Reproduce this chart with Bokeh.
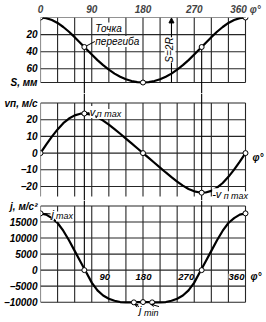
import math
from bokeh.plotting import figure
from bokeh.layouts import column
from bokeh.models import Range1d, FixedTicker, LinearAxis, Label, Arrow, NormalHead, OpenHead
from bokeh.embed import file_html
from bokeh.resources import INLINE

# ---------------- data ----------------
phi = list(range(0, 361, 10))
S_mm = [0, 0.7, 2.9, 6.4, 11.1, 16.7, 23.0, 29.7, 36.6, 43.3, 49.8, 55.7, 61.0, 65.6, 69.3, 72.2, 74.3, 75.6, 76.0,
        75.6, 74.3, 72.2, 69.3, 65.6, 61.0, 55.7, 49.8, 43.3, 36.6, 29.7, 23.0, 16.7, 11.1, 6.4, 2.9, 0.7, 0]
v_ms = [0, 5.1, 9.9, 14.2, 17.9, 20.7, 22.6, 23.6, 23.6, 22.9, 21.5, 19.5, 17.1, 14.4, 11.6, 8.7, 5.8, 2.9, 0,
        -2.9, -5.8, -8.7, -11.6, -14.4, -17.1, -19.5, -21.5, -22.9, -23.6, -23.6, -22.6, -20.7, -17.9, -14.2, -9.9, -5.1, 0]
j_ms2 = [17700, 17300, 16200, 14700, 12300, 9300, 6000, 2700, -600, -3900, -6300, -7900, -8900, -9550, -9950, -10050, -10050, -9990, -9960,
         -9990, -10050, -10050, -9950, -9550, -8900, -7900, -6300, -3900, -600, 2700, 6000, 9300, 12300, 14700, 16200, 17300, 17700]

phi_ticks = [0, 90, 180, 270, 360]
phi_grid = list(range(0, 361, 30))
S_ticks = [20, 40, 60, 76]
S_grid = [0, 20, 40, 60, 76]
v_ticks = [30, 20, 10, 0, -10, -20]
j_ticks = [20000, 15000, 10000, 5000, 0, -5000, -10000]

infl_phi = [77, 283]
S_mark_phi = [0, 77, 180, 283, 360]
S_mark = [0, 34.5, 76, 34.5, 0]
v_mark_phi = [0, 77, 180, 283, 360]
v_mark = [0, 23.7, 0, -23.7, 0]
j_mark_phi = [0, 77, 164, 180, 196, 283, 360]
j_mark = [17700, 0, -10050, -9960, -10050, 0, 17700]
S_2R_phi = 230

# ---------------- layout ----------------
FRAME_W = 228
PXD = 205 / 360.0            # px per degree
PHI_END = FRAME_W / PXD
K1 = 65 / 76.0               # px per mm
K2 = 1.67                    # px per m/s
K3 = 0.003207                # px per m/s^2
GRID = "#262626"
FONT = "Liberation Sans"


def make_fig(frame_h, yr, top=0):
    p = figure(frame_width=FRAME_W, frame_height=frame_h, x_range=Range1d(0, PHI_END), y_range=yr,
               output_backend="svg", toolbar_location=None, min_border_left=38, min_border_right=0,
               min_border_top=top, min_border_bottom=0, x_axis_location=None, y_axis_location="left")
    p.outline_line_color = None
    p.grid.visible = False
    p.background_fill_color = "white"
    p.border_fill_color = "white"
    return p


def style_yaxis(p, ticks, overrides):
    ax = p.yaxis[0]
    ax.ticker = FixedTicker(ticks=ticks)
    ax.major_label_overrides = overrides
    ax.axis_line_color = None
    ax.major_tick_line_color = None
    ax.minor_tick_line_color = None
    ax.major_tick_out = 0
    ax.major_tick_in = 0
    ax.major_label_standoff = 3
    ax.major_label_text_font = FONT
    ax.major_label_text_font_style = "bold italic"
    ax.major_label_text_font_size = "10px"
    ax.major_label_text_color = "black"


def lab(p, x, y, text, dx=0, dy=0, size="10px", style="italic", align="left", bg=True, angle=0, baseline="middle"):
    p.add_layout(Label(x=x, y=y, text=text, x_offset=dx, y_offset=dy, text_font=FONT,
                       text_font_size=size, text_font_style=style, text_align=align,
                       text_baseline=baseline, angle=angle, text_color="black",
                       background_fill_color="white" if bg else None))


def grid(p, hvals, vlo, vhi):
    p.segment(x0=0, x1=360, y0=hvals, y1=hvals, line_color=GRID, line_width=1.1)
    p.segment(x0=phi_grid, x1=phi_grid, y0=vlo, y1=vhi, line_color=GRID, line_width=1.1)


# ---------- panel 1: S ----------
r1 = Range1d(76 + 11 / K1, 0)
f1 = make_fig(76, r1, top=16)
style_yaxis(f1, S_ticks, {76: "S, мм"})
top_ax = LinearAxis(ticker=FixedTicker(ticks=phi_ticks), major_label_overrides={360: "360 φ°"})
top_ax.axis_line_color = None
top_ax.major_tick_line_color = None
top_ax.minor_tick_line_color = None
top_ax.major_tick_out = 0
top_ax.major_tick_in = 0
top_ax.major_label_standoff = 3
top_ax.major_label_text_font = FONT
top_ax.major_label_text_font_style = "bold italic"
top_ax.major_label_text_font_size = "10px"
f1.add_layout(top_ax, "above")
grid(f1, S_grid, 0, 76)
f1.segment(x0=infl_phi, x1=infl_phi, y0=[S_mark[1], S_mark[3]], y1=r1.start, line_color="black", line_width=1.1)
f1.line(phi, S_mm, line_color="black", line_width=2.2)
f1.add_layout(Arrow(end=NormalHead(size=5, fill_color="black", line_color="black"),
                    x_start=S_2R_phi, y_start=76, x_end=S_2R_phi, y_end=0.5, line_width=1.1))
lab(f1, S_2R_phi, 38, "S=2R", dx=-1.5, angle=math.pi / 2, align="center", baseline="alphabetic")
f1.segment(x0=infl_phi[0], y0=S_mark[1], x1=infl_phi[0] + 10.5 / PXD, y1=S_mark[1] - 5.5 / K1,
           line_color="black", line_width=1)
lab(f1, infl_phi[0], S_mark[1], "Точка", dx=11, dy=19)
lab(f1, infl_phi[0], S_mark[1], "перегиба", dx=11, dy=5.5)
f1.scatter(S_mark_phi, S_mark, marker="circle", size=5, fill_color="white", line_color="black", line_width=1)

# ---------- panel 2: v ----------
r2 = Range1d(-20 - 14 / K2, 30 + 9.5 / K2)
f2 = make_fig(107, r2)
style_yaxis(f2, v_ticks, {30: "vп, м/с"})
grid(f2, v_ticks, -26, 30)
f2.segment(x0=infl_phi, x1=infl_phi, y0=r2.start, y1=r2.end, line_color="black", line_width=1.1)
f2.line(phi, v_ms, line_color="black", line_width=2.2)
f2.segment(x0=v_mark_phi[1], y0=v_mark[1], x1=v_mark_phi[1] + 5 / PXD, y1=v_mark[1] + 1 / K2,
           line_color="black", line_width=1)
lab(f2, v_mark_phi[1], v_mark[1], "v", dx=5.5, dy=1.5, size="11px", bg=True)
lab(f2, v_mark_phi[1], v_mark[1], "п max", dx=12.5, dy=-0.5, size="9px", bg=True)
lab(f2, v_mark_phi[3], v_mark[3], "-v", dx=10.5, dy=-1.5, size="11px", bg=True)
lab(f2, v_mark_phi[3], v_mark[3], "п max", dx=22, dy=-3.5, size="9px", bg=True)
lab(f2, 360, 0, "φ°", dx=7, dy=-4, size="10px", style="bold italic", bg=False)
f2.scatter(v_mark_phi, v_mark, marker="circle", size=5, fill_color="white", line_color="black", line_width=1)

# ---------- panel 3: j ----------
r3 = Range1d(-10000 - 21.3 / K3, 20000 + 5.5 / K3)
f3 = make_fig(123, r3)
style_yaxis(f3, j_ticks, {20000: "j, м/с²"})
grid(f3, j_ticks, -10000, 20000)
f3.segment(x0=infl_phi, x1=infl_phi, y0=0, y1=r3.end, line_color="black", line_width=1.1)
f3.line(phi, j_ms2, line_color="black", line_width=2.2)
for t, dx in zip(phi_ticks[1:], [13, 0.5, -8, -9]):
    lab(f3, t, 0, str(t), dx=dx, dy=-6.5, size="9.5px", style="bold italic", align="center", bg=True)
lab(f3, 360, 0, "φ°", dx=5, dy=-6.5, size="10px", style="bold italic", bg=False)
f3.segment(x0=j_mark_phi[0], y0=j_mark[0], x1=j_mark_phi[0] + 10 / PXD, y1=j_mark[0] - 0.5 / K3,
           line_color="black", line_width=1)
lab(f3, j_mark_phi[0], j_mark[0], "j", dx=11, dy=-1, size="11px", bg=True)
lab(f3, j_mark_phi[0], j_mark[0], "max", dx=15.5, dy=-3, size="9px", bg=True)
lab(f3, j_mark_phi[3], j_mark[3], "j", dx=-4, dy=-8, size="11px", bg=True)
lab(f3, j_mark_phi[3], j_mark[3], "min", dx=1, dy=-11, size="9px", bg=True)
f3.add_layout(Arrow(end=OpenHead(size=3, line_width=1), line_width=1,
                    x_start=j_mark_phi[3] - 4 / PXD, y_start=j_mark[3] - 4.5 / K3,
                    x_end=j_mark_phi[2] + 1 / PXD, y_end=j_mark[2] - 2 / K3))
f3.add_layout(Arrow(end=OpenHead(size=3, line_width=1), line_width=1,
                    x_start=j_mark_phi[3] + 16 / PXD, y_start=j_mark[3] - 4.5 / K3,
                    x_end=j_mark_phi[4] - 1 / PXD, y_end=j_mark[4] - 2 / K3))
f3.scatter(j_mark_phi, j_mark, marker="circle", size=5, fill_color="white", line_color="black", line_width=1)

layout = column(f1, f2, f3, spacing=0)
open("out.html", "w").write(file_html(layout, INLINE))
